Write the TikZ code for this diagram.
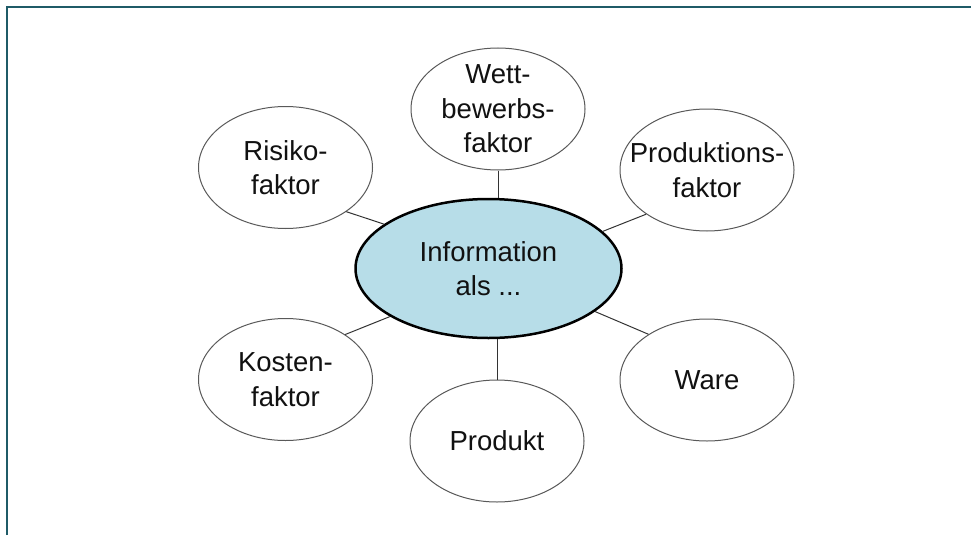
\documentclass[tikz,border=0pt]{standalone}
\usepackage{fontspec}
\setmainfont{Liberation Sans}
\usetikzlibrary{shapes.geometric}
\definecolor{framecol}{HTML}{1F5B67}
\definecolor{infofill}{HTML}{B7DDE8}
\definecolor{txtcol}{HTML}{111111}
\begin{document}
\begin{tikzpicture}[x=1pt,y=-1pt,
  lab/.style={align=center,text=txtcol,inner sep=0pt,font=\fontsize{27.5}{34.5}\selectfont},
  outer/.style={ellipse,draw=black!65,line width=1pt,fill=white,
    minimum width=174pt,minimum height=122pt,inner sep=0pt},
  infobox/.style={ellipse,draw=black,line width=2.5pt,fill=infofill,
    minimum width=266pt,minimum height=139pt,inner sep=0pt},
  link/.style={draw=black!80,line width=1pt},
  framestyle/.style={draw=framecol,line width=2pt}]
\useasboundingbox (0,0) rectangle (971,535);
\coordinate (fb) at (7,535);
\coordinate (fc) at (7,7);
\coordinate (fe) at (971,7);
\draw[framestyle] (fb) -- (fc) -- (fe);

\node[infobox,label={[lab]center:Information\\als ...}] (info) at (488.5,268.5) {};
\node[outer,label={[lab]center:Wett-\\bewerbs-\\faktor}] (wett) at (498,109) {};
\node[outer,label={[lab]center:Risiko-\\faktor}] (risiko) at (285.5,167.5) {};
\node[outer,label={[lab]center:Produktions-\\faktor}] (prod) at (707,170) {};
\node[outer,label={[lab]center:Kosten-\\faktor}] (kosten) at (285.5,379.5) {};
\node[outer,label={[lab]center:Produkt}] (produkt) at (497,441) {};
\node[outer,label={[lab]center:Ware}] (ware) at (707,380) {};

\draw[link] (wett.south) -- (wett.south |- info.north);
\draw[link] (produkt.north) -- (produkt.north |- info.south);
\draw[link] (risiko.-36.5) -- (info.157.8);
\draw[link] (prod.216) -- (info.18.6);
\draw[link] (kosten.37) -- (info.206.7);
\draw[link] (ware.142.5) -- (info.-22.7);
\end{tikzpicture}
\end{document}
